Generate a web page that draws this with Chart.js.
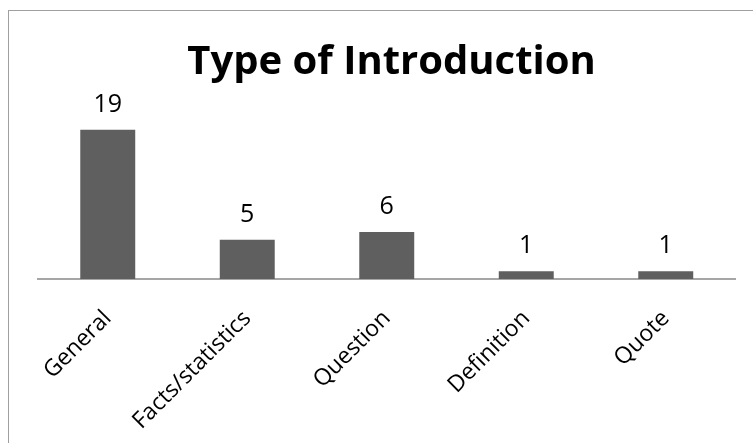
<!DOCTYPE html>
<html>
<head>
<meta charset="utf-8">
<script src="https://cdn.jsdelivr.net/npm/chart.js@4"></script>
<style>
  html, body { margin: 0; padding: 0; background: #fff; overflow: hidden; width: 753px; height: 443px; }
  #wrap { position: absolute; left: 8px; top: 10px; width: 765px; height: 440px;
          border-left: 1px solid #a0a0a0; border-top: 1px solid #a0a0a0; background: #fff; }
  canvas { display: block; }
</style>
</head>
<body>
<div id="wrap"><canvas id="c" width="765" height="440"></canvas></div>
<script>
const titleText = "Type of Introduction";
const categories = ["General", "Facts/statistics", "Question", "Definition", "Quote"];
const counts = [19, 5, 6, 1, 1];

const valueLabels = {
  id: 'valueLabels',
  afterDatasetsDraw(chart) {
    const ctx = chart.ctx;
    const meta = chart.getDatasetMeta(0);
    ctx.save();
    ctx.font = '25px "Open Sans"';
    ctx.fillStyle = '#000';
    ctx.textAlign = 'center';
    ctx.textBaseline = 'alphabetic';
    meta.data.forEach((bar, i) => {
      ctx.fillText(String(chart.data.datasets[0].data[i]), bar.x, bar.y - 18);
    });
    ctx.restore();
  }
};

const hiddenAxis = (pos, w) => ({
  type: 'linear',
  position: pos,
  display: true,
  min: 0,
  max: 20,
  grid: { display: false },
  border: { display: false },
  ticks: { display: false },
  afterFit(scale) { scale.width = w; }
});

new Chart(document.getElementById('c'), {
  type: 'bar',
  data: {
    labels: categories,
    datasets: [{
      data: counts,
      yAxisID: 'y',
      backgroundColor: '#5f5f5f',
      borderWidth: 0,
      categoryPercentage: 1,
      barPercentage: 0.394
    }]
  },
  options: {
    responsive: false,
    animation: false,
    layout: { padding: 0 },
    plugins: {
      legend: { display: false },
      tooltip: { enabled: false },
      title: {
        display: true,
        text: titleText,
        color: '#000',
        font: { family: 'Open Sans', weight: 'bold', size: 40, lineHeight: 1.2 },
        padding: { top: 28, bottom: 35 }
      }
    },
    scales: {
      x: {
        grid: { display: false },
        border: { display: true, color: '#a6a6a6', width: 2 },
        ticks: {
          color: '#000',
          font: { family: 'Open Sans', size: 23 },
          minRotation: 45,
          maxRotation: 45,
          padding: 18
        },
        afterFit(scale) { scale.height = 172; }
      },
      y: hiddenAxis('left', 29),
      y2: hiddenAxis('right', 38.5)
    }
  },
  plugins: [valueLabels]
});
</script>
</body>
</html>
